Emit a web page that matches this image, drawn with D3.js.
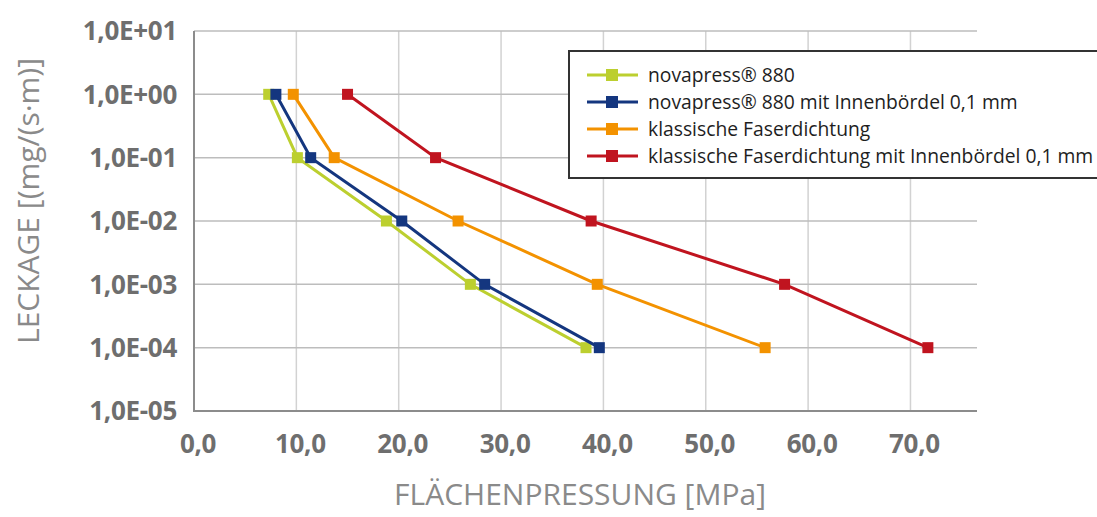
<!DOCTYPE html>
<html>
<head>
<meta charset="utf-8">
<script src="https://cdn.jsdelivr.net/npm/d3@7"></script>
<style>
  body { margin: 0; background: #fff; }
  svg { display: block; }
</style>
</head>
<body>
<div id="chart"></div>
<script>
// data
const leakage = [1, 0.1, 0.01, 0.001, 0.0001];
const seriesNames = [
  "novapress® 880",
  "novapress® 880 mit Innenbördel 0,1 mm",
  "klassische Faserdichtung",
  "klassische Faserdichtung mit Innenbördel 0,1 mm"
];
const pressNova = [7.3, 10.1, 18.8, 27.0, 38.3];
const pressNovaIB = [8.0, 11.4, 20.3, 28.4, 39.6];
const pressFaser = [9.7, 13.7, 25.8, 39.4, 55.8];
const pressFaserIB = [15.0, 23.6, 38.8, 57.7, 71.7];
const seriesColors = ["#bccf2f", "#14367f", "#f39200", "#c0141f"];

const xTicks = [0, 10, 20, 30, 40, 50, 60, 70];
const xTickLabels = ["0,0", "10,0", "20,0", "30,0", "40,0", "50,0", "60,0", "70,0"];
const yTicks = [1e1, 1e0, 1e-1, 1e-2, 1e-3, 1e-4, 1e-5];
const yTickLabels = ["1,0E+01", "1,0E+00", "1,0E-01", "1,0E-02", "1,0E-03", "1,0E-04", "1,0E-05"];

const chart = {
  width: 1097,
  height: 517,
  margin: {top: 31, right: 120, bottom: 106, left: 194}
};

const svg = d3.select("#chart")
  .append("svg")
  .attr("width", chart.width)
  .attr("height", chart.height);

const {margin} = chart;
const innerW = 977 - margin.left;
const innerH = chart.height - margin.top - margin.bottom;

const x = d3.scaleLinear()
  .domain([0, 76.5])
  .range([margin.left, margin.left + innerW]);

const y = d3.scaleLog()
  .domain([1e-5, 1e1])
  .range([margin.top + innerH, margin.top]);

// grid
svg.append("g")
  .selectAll("line")
  .data(xTicks.slice(1))
  .join("line")
    .attr("x1", d => x(d)).attr("x2", d => x(d))
    .attr("y1", y(1e1)).attr("y2", y(1e-5))
    .attr("stroke", "#d2d2d2")
    .attr("stroke-width", 1.5);

svg.append("g")
  .selectAll("line")
  .data(yTicks.slice(0, -1))
  .join("line")
    .attr("x1", x(0)).attr("x2", x(76.5))
    .attr("y1", d => y(d)).attr("y2", d => y(d))
    .attr("stroke", "#bdbdbd")
    .attr("stroke-width", 1.5);

// axes lines
svg.append("line")
  .attr("x1", x(0)).attr("x2", x(0))
  .attr("y1", y(1e1)).attr("y2", y(1e-5))
  .attr("stroke", "#8c8c8c").attr("stroke-width", 2);
svg.append("line")
  .attr("x1", x(0) - 1).attr("x2", x(76.5))
  .attr("y1", y(1e-5)).attr("y2", y(1e-5))
  .attr("stroke", "#8c8c8c").attr("stroke-width", 2);

// tick labels
const tickFont = "'Open Sans', sans-serif";
svg.append("g")
  .selectAll("text")
  .data(yTicks)
  .join("text")
    .attr("x", 177)
    .attr("y", d => y(d))
    .attr("dy", "0.36em")
    .attr("text-anchor", "end")
    .style("font-family", tickFont)
    .style("font-weight", "bold")
    .style("font-size", "26px")
    .style("letter-spacing", "-0.3px")
    .style("fill", "#6e6e6e")
    .text((d, i) => yTickLabels[i]);

svg.append("g")
  .selectAll("text")
  .data(xTicks)
  .join("text")
    .attr("x", d => x(d) + 4)
    .attr("y", 453)
    .attr("text-anchor", "middle")
    .style("font-family", tickFont)
    .style("font-weight", "bold")
    .style("font-size", "26px")
    .style("letter-spacing", "-0.3px")
    .style("fill", "#6e6e6e")
    .text((d, i) => xTickLabels[i]);

// axis titles
svg.append("text")
  .attr("transform", "translate(39,201) rotate(-90)")
  .attr("text-anchor", "middle")
  .style("font-family", "'Open Sans', sans-serif")
  .style("font-size", "30px")
  .style("fill", "#8a8a8a")
  .text("LECKAGE [(mg/(s·m)]");

svg.append("text")
  .attr("x", 580)
  .attr("y", 505)
  .attr("text-anchor", "middle")
  .style("font-family", "'Open Sans', sans-serif")
  .style("font-size", "30px")
  .style("fill", "#8a8a8a")
  .text("FLÄCHENPRESSUNG [MPa]");

// series
const allSeries = [pressNova, pressNovaIB, pressFaser, pressFaserIB].map((p, i) => ({
  name: seriesNames[i],
  color: seriesColors[i],
  points: p.map((v, j) => ({x: v, y: leakage[j]}))
}));

const line = d3.line().x(d => x(d.x)).y(d => y(d.y));
const markSize = 11;

const gSeries = svg.append("g")
  .selectAll("g")
  .data(allSeries)
  .join("g");

gSeries.append("path")
  .attr("d", d => line(d.points))
  .attr("fill", "none")
  .attr("stroke", d => d.color)
  .attr("stroke-width", 3);

gSeries.selectAll("rect")
  .data(d => d.points.map(p => ({...p, color: d.color})))
  .join("rect")
    .attr("x", d => x(d.x) - markSize / 2)
    .attr("y", d => y(d.y) - markSize / 2)
    .attr("width", markSize)
    .attr("height", markSize)
    .attr("fill", d => d.color);

// legend
const legend = svg.append("g");
legend.append("rect")
  .attr("x", 569).attr("y", 51)
  .attr("width", 540).attr("height", 127)
  .attr("fill", "#fff")
  .attr("stroke", "#333")
  .attr("stroke-width", 2);

const legRows = legend.selectAll("g")
  .data(allSeries)
  .join("g")
    .attr("transform", (d, i) => `translate(0,${75 + i * 27})`);

legRows.append("line")
  .attr("x1", 587).attr("x2", 638)
  .attr("stroke", d => d.color)
  .attr("stroke-width", 3);
legRows.append("rect")
  .attr("x", 612 - 6).attr("y", -6)
  .attr("width", 12).attr("height", 12)
  .attr("fill", d => d.color);
legRows.append("text")
  .attr("x", 648)
  .attr("dy", "0.35em")
  .style("font-family", "'Open Sans', sans-serif")
  .style("font-size", "19.3px")
  .style("fill", "#1e1e1e")
  .text(d => d.name);
</script>
</body>
</html>
